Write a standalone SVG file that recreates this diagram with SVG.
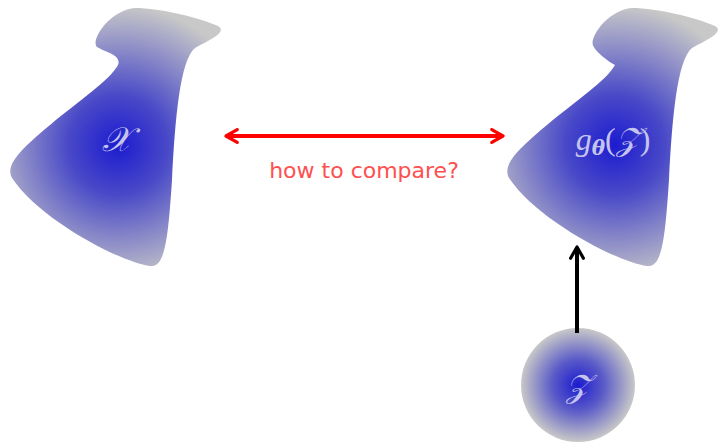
<svg xmlns="http://www.w3.org/2000/svg" width="721" height="442" viewBox="0 0 721 442">
<defs>
<radialGradient id="gL" gradientUnits="userSpaceOnUse" cx="118" cy="145" r="140">
<stop offset="0" stop-color="#1c1cd0"/>
<stop offset="0.35" stop-color="#4848c8"/>
<stop offset="0.7" stop-color="#8e8ec8"/>
<stop offset="1" stop-color="#c8c8c8"/>
</radialGradient>
<radialGradient id="gC" gradientUnits="userSpaceOnUse" cx="578" cy="385" r="57">
<stop offset="0" stop-color="#1c1cd0"/>
<stop offset="0.45" stop-color="#5a5ac8"/>
<stop offset="1" stop-color="#c8c8c8"/>
</radialGradient>
<marker id="arR" viewBox="0 0 10 10" refX="8" refY="5" markerWidth="4" markerHeight="4" orient="auto-start-reverse" markerUnits="strokeWidth">
<path d="M1,1 L8,5 L1,9" fill="none" stroke="#ff0000" stroke-width="2" stroke-linecap="round" stroke-linejoin="round"/>
</marker>
<marker id="arK" viewBox="0 0 10 10" refX="8" refY="5" markerWidth="4" markerHeight="4" orient="auto" markerUnits="strokeWidth">
<path d="M1,1 L8,5 L1,9" fill="none" stroke="#000" stroke-width="2" stroke-linecap="round" stroke-linejoin="round"/>
</marker>
</defs>
<style>
.lbl{fill:#c4c4ec;font-family:"DejaVu Serif","Liberation Serif",serif;font-style:italic;text-anchor:middle}
.cmp{fill:#ff5050;font-family:"DejaVu Sans","Liberation Sans",sans-serif;font-size:22px;text-anchor:middle}
</style>
<g id="nodeX">
<path fill="url(#gL)" d="M97,47 C90,40 110,10 135,8 C160,8 200,18 218,26 C228,32 210,40 195,48 C180,60 175,120 172,180 C168,240 165,268 150,266 C120,262 40,220 12,178 C5,165 20,150 50,125 C80,100 110,80 118,65 C122,55 105,52 97,47 Z"/>
<text class="lbl" x="116" y="151" font-size="34">𝒳</text>
</g>
<g id="nodeG" transform="translate(497,0)">
<path fill="url(#gL)" d="M97,47 C90,40 110,10 135,8 C160,8 200,18 218,26 C228,32 210,40 195,48 C180,60 175,120 172,180 C168,240 165,268 150,266 C120,262 40,220 12,178 C5,165 20,150 50,125 C80,100 110,80 118,65 C112,62 99,52 97,47 Z"/>
<text class="lbl" x="116" y="150" font-size="32"><tspan font-family="Liberation Serif">g</tspan><tspan font-size="20" font-weight="bold" dy="5">θ</tspan><tspan dy="-5" font-style="normal" font-family="Liberation Serif">(</tspan>𝒵<tspan font-style="normal" font-family="Liberation Serif">)</tspan></text>
</g>
<g id="nodeZ">
<circle cx="578" cy="385" r="57" fill="url(#gC)"/>
<text class="lbl" x="578" y="397" font-size="32">𝒵</text>
</g>
<g id="connectors">
<line x1="226" y1="136" x2="503" y2="136" stroke="#ff0000" stroke-width="4" marker-start="url(#arR)" marker-end="url(#arR)"/>
<line x1="577" y1="333" x2="577" y2="247" stroke="#000" stroke-width="4" marker-end="url(#arK)"/>
<text class="cmp" x="364" y="178">how to compare?</text>
</g>
</svg>
